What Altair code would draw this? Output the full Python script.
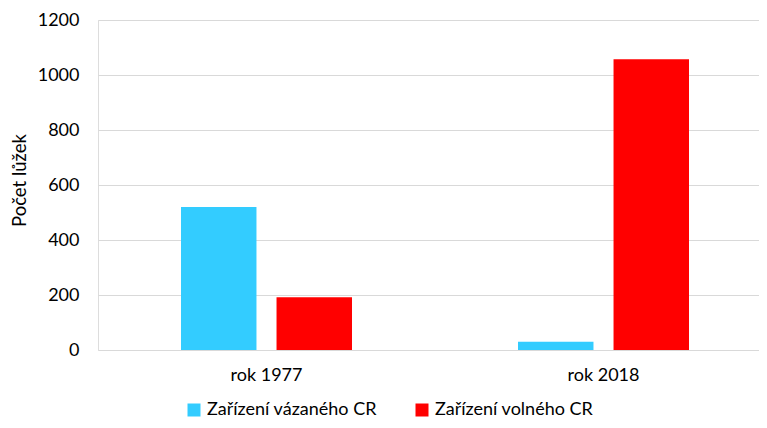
import altair as alt
import pandas as pd

years = ["rok 1977", "rok 2018"]
series = ["Zařízení vázaného CR", "Zařízení volného CR"]
vazane = [520, 30]
volne = [192, 1057]
colors = ["#33CCFF", "#FF0000"]

rows = []
for i, y in enumerate(years):
    rows.append({"rok": y, "typ": series[0], "pocet": vazane[i]})
    rows.append({"rok": y, "typ": series[1], "pocet": volne[i]})
df = pd.DataFrame(rows)

FONT = "Lato"

chart = alt.Chart(df).mark_bar().encode(
    x=alt.X("rok:N", sort=years,
            scale=alt.Scale(paddingInner=0.4926, paddingOuter=0.227, align=0.5425),
            axis=alt.Axis(title=None, labelAngle=0, ticks=False, domain=False,
                          labelPadding=16, labelFontSize=18, labelColor="#000000",
                          labelFont=FONT)),
    xOffset=alt.XOffset("typ:N", sort=series,
                        scale=alt.Scale(paddingInner=0.21, paddingOuter=0)),
    y=alt.Y("pocet:Q",
            scale=alt.Scale(domain=[0, 1200], nice=False),
            axis=alt.Axis(title="Počet lůžek", values=[0, 200, 400, 600, 800, 1000, 1200],
                          format="d",
                          ticks=False, domain=False, labelPadding=19,
                          labelFontSize=18, labelColor="#000000", labelFont=FONT,
                          gridColor="#d9d9d9", gridWidth=1,
                          titleFontSize=18.5, titleFontWeight="normal", titleColor="#000000",
                          titleFont=FONT, titleX=-73, titleY=160, titleAngle=-90,
                          titleAlign="center", titleBaseline="alphabetic")),
    color=alt.Color("typ:N", sort=series,
                    scale=alt.Scale(domain=series, range=colors),
                    legend=alt.Legend(title=None, orient="none", direction="horizontal",
                                      legendX=87, legendY=381, symbolType="square",
                                      symbolSize=169, symbolStrokeWidth=0,
                                      labelFontSize=18, labelFont=FONT, labelColor="#000000",
                                      labelOffset=4, columnPadding=36, labelLimit=400)),
).properties(
    width=661,
    height=330,
    autosize=alt.AutoSizeParams(type="none"),
    padding={"left": 90, "top": 12, "right": 0, "bottom": 70},
).configure_view(stroke=None).configure(background="#ffffff")

chart.save("out.html", embed_options={"renderer": "svg", "actions": False})
